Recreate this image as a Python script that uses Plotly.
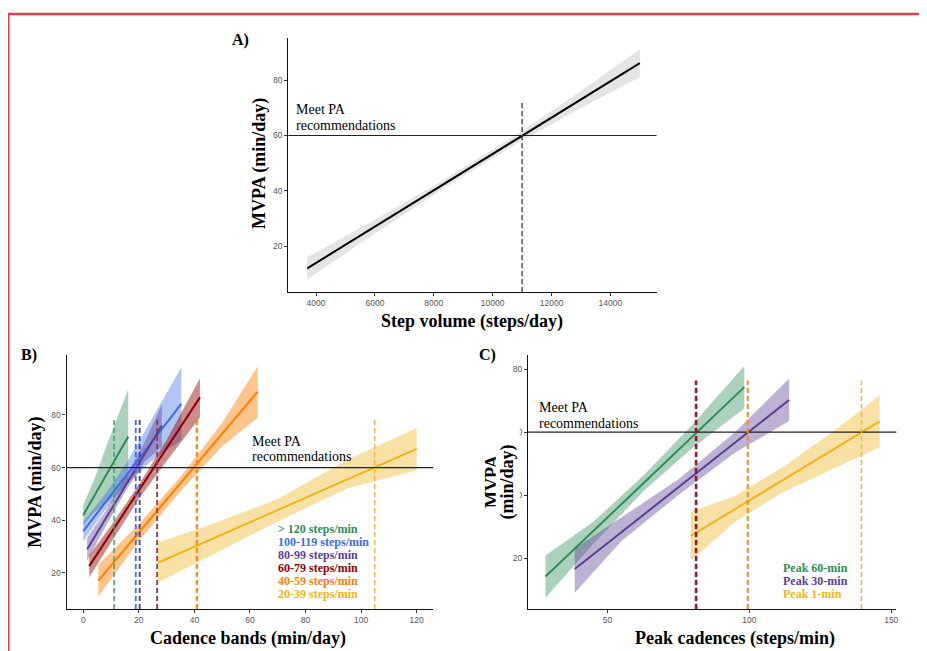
import plotly.graph_objects as go

# The page is photographed with the browser's default 8px body margin,
# so the figure is sized to the viewport minus that margin.
OFF = 8
W, H = 927 - OFF, 651 - OFF

# ---------------- DATA ----------------
# Panel A: step volume vs MVPA
a_x = [3700, 6000, 8500, 11000, 13000, 15000]
a_fit = [11.9, 27.0, 43.5, 59.9, 73.05, 86.2]
a_lo = [7.9, 24.5, 42.0, 58.2, 70.0, 81.1]
a_hi = [15.9, 29.5, 45.0, 61.6, 76.1, 91.2]
a_cut = 11000
a_cut_top = 72.5

# Panel B: cadence bands
b_labels = ["> 120 steps/min", "100-119 steps/min", "80-99 steps/min",
            "60-79 steps/min", "40-59 steps/min", "20-39 steps/min"]
b_x = [
    [0, 4, 8, 12, 16.2],
    [0, 8, 16, 24, 35.3],
    [1.4, 8, 15, 22, 28.3],
    [2.15, 10, 20, 30, 42],
    [5.4, 20, 35, 50, 62.8],
    [26.9, 45, 70, 95, 120],
]
b_fit = [
    [41.9, 49.3, 56.7, 64.1, 71.8],
    [35.85, 46.8, 57.8, 68.7, 84.2],
    [28.9, 40.45, 52.7, 64.95, 76.0],
    [22.5, 35.1, 51.3, 67.4, 86.7],
    [17.0, 35.3, 54.1, 72.9, 88.9],
    [23.8, 32.2, 43.8, 55.5, 67.1],
]
b_lo = [
    [38.0, 43.0, 46.2, 49.9, 53.8],
    [32.0, 44.0, 54.0, 62.0, 70.5],
    [24.5, 37.5, 50.5, 62.0, 68.0],
    [18.2, 31.5, 48.0, 62.5, 79.0],
    [11.0, 32.0, 51.0, 68.0, 79.0],
    [16.3, 26.0, 39.5, 52.0, 59.0],
]
b_hi = [
    [45.8, 55.6, 67.2, 78.3, 89.8],
    [39.5, 50.0, 62.5, 77.0, 98.0],
    [33.3, 43.5, 56.0, 69.5, 84.0],
    [26.5, 38.0, 53.5, 70.5, 94.0],
    [23.0, 38.5, 56.5, 77.0, 98.5],
    [31.5, 38.0, 48.0, 63.0, 75.0],
]
b_cut = [11.1, 18.9, 20.3, 26.6, 40.9, 104.9]
b_cut_top = 78.7

# Panel C: peak cadences
c_labels = ["Peak 60-min", "Peak 30-min", "Peak 1-min"]
c_x = [
    [28.1, 45, 63, 80, 98.2],
    [38.4, 55, 75, 95, 114],
    [79.3, 95, 112, 130, 145.9],
]
c_fit = [
    [14.1, 28.6, 44.1, 58.7, 74.3],
    [16.5, 28.3, 42.5, 56.7, 70.2],
    [27.0, 35.6, 44.9, 54.7, 63.4],
]
c_lo = [
    [7.4, 24.5, 41.5, 55.0, 67.5],
    [9.0, 25.5, 40.0, 53.5, 63.5],
    [19.2, 31.5, 41.0, 48.5, 55.2],
]
c_hi = [
    [20.8, 31.5, 46.5, 62.5, 81.0],
    [23.0, 33.0, 45.0, 60.0, 77.0],
    [34.7, 39.8, 49.0, 60.5, 71.6],
]
c_cut = [81.2, 99.4, 139.5]
c_cut_top = 76.4

threshold = 60

a_xticks = [4000, 6000, 8000, 10000, 12000, 14000]
b_xticks = [0, 20, 40, 60, 80, 100, 120]
c_xticks = [50, 100, 150]
y_ticks = [20, 40, 60, 80]

# ---------------- STYLE ----------------
B_LINE = ["#2E8B57", "#3D6BE0", "#5A3F92", "#8B0000", "#FF7F00", "#EFB320"]
B_FILL = ["rgba(46,139,87,0.40)", "rgba(61,107,224,0.40)", "rgba(90,63,146,0.40)",
          "rgba(139,0,0,0.45)", "rgba(255,127,0,0.45)", "rgba(239,179,32,0.40)"]
B_DASH = ["#3AA36A", "#3D6BE0", "#3A3FB0", "#A8323C", "#FF8514", "#F2B53A"]
B_DASHW = [1.5, 1.8, 1.8, 1.8, 2.3, 1.4]
C_LINE = ["#2E8B57", "#5A3F92", "#EFB320"]
C_FILL = ["rgba(46,139,87,0.40)", "rgba(90,63,146,0.40)", "rgba(239,179,32,0.40)"]
C_DASH = ["#A01020", "#FF8A1A", "#F4B53A"]
C_DASHW = [2.6, 2.1, 1.6]

SERIF = "Liberation Serif"
SANS = "Liberation Sans"


def px(x):
    # page pixel x -> paper fraction
    return (x - OFF) / W


def py(y):
    # page pixel y -> paper fraction
    return 1 - (y - OFF) / H


fig = go.Figure()


def ribbon(xs, lo, hi, fill, xa, ya):
    fig.add_trace(go.Scatter(x=list(xs) + list(xs)[::-1], y=list(hi) + list(lo)[::-1],
                             fill="toself", fillcolor=fill, line=dict(width=0),
                             mode="lines", hoverinfo="skip", showlegend=False,
                             xaxis=xa, yaxis=ya))


def line(xs, ys, color, width, xa, ya):
    fig.add_trace(go.Scatter(x=xs, y=ys, mode="lines",
                             line=dict(color=color, width=width),
                             showlegend=False, xaxis=xa, yaxis=ya))


# Panel A
ribbon(a_x, a_lo, a_hi, "rgba(190,190,190,0.42)", "x", "y")
line(a_x, a_fit, "black", 2, "x", "y")

# Panel B
for i in range(len(b_labels)):
    ribbon(b_x[i], b_lo[i], b_hi[i], B_FILL[i], "x2", "y2")
for i in range(len(b_labels)):
    line(b_x[i], b_fit[i], B_LINE[i], 2, "x2", "y2")

# Panel C
for i in range(len(c_labels)):
    ribbon(c_x[i], c_lo[i], c_hi[i], C_FILL[i], "x3", "y3")
for i in range(len(c_labels)):
    line(c_x[i], c_fit[i], C_LINE[i], 2, "x3", "y3")

A_XR = [3061, 15569]
A_YR = [3.35, 95.3]
B_XR = [-6, 126]
B_YR = [6.2, 102.8]
C_XR = [22, 151.8]
C_YR = [3.8, 84.5]

shapes = []
for xr, yr in (("x", "y"), ("x2", "y2"), ("x3", "y3")):
    shapes.append(dict(type="line", xref=f"{xr} domain", yref=yr, x0=0, x1=1,
                       y0=threshold, y1=threshold, line=dict(color="#222", width=1.2)))
shapes.append(dict(type="line", xref="x", yref="y", x0=a_cut, x1=a_cut, y0=A_YR[0],
                   y1=a_cut_top, line=dict(color="#333", width=1.3, dash="5px,3px")))
for i, v in enumerate(b_cut):
    shapes.append(dict(type="line", xref="x2", yref="y2", x0=v, x1=v, y0=B_YR[0],
                       y1=b_cut_top, line=dict(color=B_DASH[i], width=B_DASHW[i], dash="5px,3px")))
for i, v in enumerate(c_cut):
    shapes.append(dict(type="line", xref="x3", yref="y3", x0=v, x1=v, y0=C_YR[0],
                       y1=c_cut_top, line=dict(color=C_DASH[i], width=C_DASHW[i], dash="5px,3px")))
# red frame
shapes.append(dict(type="rect", xref="paper", yref="paper", x0=px(8.3), x1=1.05,
                   y0=-0.05, y1=py(14), line=dict(color="#D8434F", width=2.5)))

ann = []


def text(t, x, y, size, color="black", bold=False, xanchor="left", angle=0, bg=None):
    d = dict(text=f"<b>{t}</b>" if bold else t, x=px(x), y=py(y), xref="paper", yref="paper",
             showarrow=False, xanchor=xanchor, yanchor="middle", textangle=angle,
             font=dict(family=SERIF, size=size, color=color))
    if bg:
        d["bgcolor"] = bg
    ann.append(d)


text("A)", 230, 40, 16, bold=True)
text("B)", 18.7, 355, 16, bold=True)
text("C)", 478.3, 355, 16, bold=True)

for (x, y1, y2) in ((295, 110, 125), (250.7, 441, 456.7), (537.7, 407.3, 423.3)):
    text("Meet PA", x, y1, 14)
    text("recommendations", x, y2, 14)

text("MVPA (min/day)", 260, 163.5, 18, bold=True, xanchor="center", angle=-90)
text("Step volume (steps/day)", 473.3, 321.7, 18, bold=True, xanchor="center")
text("MVPA (min/day)", 36, 481.7, 18, bold=True, xanchor="center", angle=-90)
text("Cadence bands (min/day)", 248.3, 638.3, 18, bold=True, xanchor="center")
text("MVPA", 493, 481, 18, bold=True, xanchor="center", angle=-90)
# white box of the two-line title hides most of the 40/60 tick labels, as in the source
text("(min/day)&nbsp;&nbsp;&nbsp;&nbsp;", 509, 472.7, 18, bold=True, xanchor="center",
     angle=-90, bg="white")
text("Peak cadences (steps/min)", 736.7, 638.3, 18, bold=True, xanchor="center")

b_leg_y = [529, 542, 555, 567.7, 580.7, 593.7]
for i, lab in enumerate(b_labels):
    text(lab, 276.7, b_leg_y[i], 12, color=B_LINE[i], bold=True)
c_leg_y = [568, 581, 594]
for i, lab in enumerate(c_labels):
    text(lab, 782.7, c_leg_y[i], 12, color=C_LINE[i], bold=True)

axis_common = dict(showline=True, linecolor="#111", linewidth=1.3, ticks="outside",
                   ticklen=3, tickcolor="#333", tickwidth=1, showgrid=False, zeroline=False,
                   tickfont=dict(family=SANS, size=8.5, color="#555"))

fig.update_layout(
    width=W, height=H, margin=dict(l=0, r=0, t=0, b=0),
    paper_bgcolor="white", plot_bgcolor="white", showlegend=False,
    xaxis=dict(domain=[px(289), px(658)], range=A_XR, anchor="y", tickvals=a_xticks,
               ticktext=[str(v) for v in a_xticks], **axis_common),
    yaxis=dict(domain=[py(292), py(38)], range=A_YR, anchor="x", tickvals=y_ticks, **axis_common),
    xaxis2=dict(domain=[px(66.7), px(434.3)], range=B_XR, anchor="y2", tickvals=b_xticks, **axis_common),
    yaxis2=dict(domain=[py(609), py(355)], range=B_YR, anchor="x2", tickvals=y_ticks, **axis_common),
    xaxis3=dict(domain=[px(529.3), px(898.3)], range=C_XR, anchor="y3", tickvals=c_xticks, **axis_common),
    yaxis3=dict(domain=[py(609), py(355)], range=C_YR, anchor="x3", tickvals=y_ticks, **axis_common),
    shapes=shapes, annotations=ann,
)

fig.write_html("out.html")
